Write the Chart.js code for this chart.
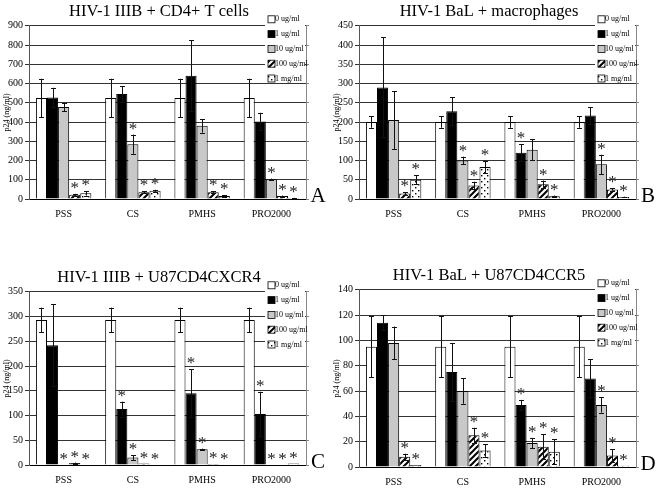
<!DOCTYPE html>
<html>
<head>
<meta charset="utf-8">
<script src="https://cdn.jsdelivr.net/npm/chart.js@4.4.1/dist/chart.umd.min.js"></script>
<style>
body { margin: 0; background: #fff; width: 660px; height: 489px; position: relative; overflow: hidden; }
canvas { position: absolute; }
</style>
</head>
<body>
<canvas id="chartA" width="330" height="223" style="left:0;top:0"></canvas>
<canvas id="chartB" width="330" height="223" style="left:330px;top:0"></canvas>
<canvas id="chartC" width="330" height="223" style="left:0;top:266px"></canvas>
<canvas id="chartD" width="330" height="225" style="left:330px;top:264px"></canvas>
<script>
const categories = ['PSS', 'CS', 'PMHS', 'PRO2000'];
const doses = ['0 ug/ml', '1 ug/ml', '10 ug/ml', '100 ug/ml', '1 mg/ml'];

// A: HIV-1 IIIB + CD4+ T cells (one row per dose)
const aValues = [[525, 525, 525, 525], [528, 545, 640, 403], [478, 285, 380, 103], [22, 35, 35, 15], [30, 43, 15, 5]];
const aErrors = [[100, 100, 100, 100], [50, 40, 185, 45], [22, 50, 35, 3], [5, 5, 5, 3], [12, 5, 5, 1]];
const aStars  = [[0, 0, 0, 0], [0, 0, 0, 0], [0, 1, 0, 1], [1, 1, 1, 1], [1, 1, 1, 1]];

// B: HIV-1 BaL + macrophages
const bValues = [[200, 200, 200, 200], [290, 228, 120, 217], [205, 100, 128, 90], [14, 35, 38, 25], [50, 83, 7, 5]];
const bErrors = [[15, 15, 15, 15], [130, 37, 22, 22], [75, 10, 27, 25], [3, 10, 10, 3], [12, 15, 2, 1]];
const bStars  = [[0, 0, 0, 0], [0, 0, 1, 0], [0, 1, 0, 1], [1, 1, 1, 1], [1, 1, 1, 1]];

// C: HIV-1 IIIB + U87CD4CXCR4
const cValues = [[293, 293, 293, 293], [242, 113, 145, 103], [1, 15, 32, 1], [4, 3, 2, 1], [1, 1, 1, 3]];
const cErrors = [[25, 25, 25, 25], [83, 15, 48, 45], [0, 5, 1, 0], [1, 0, 0, 0], [0, 0, 0, 0]];
const cStars  = [[0, 0, 0, 0], [0, 1, 1, 1], [1, 1, 1, 1], [1, 1, 1, 1], [1, 1, 1, 1]];

// D: HIV-1 BaL + U87CD4CCR5
const dValues = [[95, 95, 95, 95], [114, 75, 49, 70], [98, 60, 19, 49], [8, 25, 16, 9], [1.5, 13, 12, 1]];
const dErrors = [[24, 24, 24, 24], [6, 23, 4, 15], [13, 10, 4, 6], [2.5, 6, 10, 5], [0, 5, 10, 0]];
const dStars  = [[0, 0, 0, 0], [0, 0, 1, 0], [0, 0, 1, 1], [1, 1, 1, 1], [1, 1, 1, 1]];

const SERIF = "'Liberation Serif', 'Times New Roman', serif";

function hatchPattern() {
    const c = document.createElement('canvas');
    c.width = 6; c.height = 6;
    const g = c.getContext('2d');
    g.fillStyle = '#fff';
    g.fillRect(0, 0, 6, 6);
    g.strokeStyle = '#000';
    g.lineWidth = 2;
    g.beginPath();
    g.moveTo(-1, 7); g.lineTo(7, -1);
    g.moveTo(-4, 4); g.lineTo(4, -4);
    g.moveTo(2, 10); g.lineTo(10, 2);
    g.stroke();
    return g.createPattern(c, 'repeat');
}

function dotPattern() {
    const c = document.createElement('canvas');
    c.width = 6; c.height = 6;
    const g = c.getContext('2d');
    g.fillStyle = '#fff';
    g.fillRect(0, 0, 6, 6);
    g.fillStyle = '#000';
    g.fillRect(1, 1, 1.4, 1.4);
    g.fillRect(4, 4, 1.4, 1.4);
    return g.createPattern(c, 'repeat');
}

const fills = ['#ffffff', '#000000', '#c8c8c8', hatchPattern(), dotPattern()];

// error bars, asterisks, legend box and panel letter
const extras = {
    id: 'extras',
    afterDatasetsDraw(chart) {
        const ctx = chart.ctx, y = chart.scales.y;
        ctx.save();
        chart.data.datasets.forEach((ds, i) => {
            chart.getDatasetMeta(i).data.forEach((bar, j) => {
                const v = ds.data[j], e = ds.errors[j];
                const top = y.getPixelForValue(v + e);
                if (e > 0) {
                    const bot = y.getPixelForValue(Math.max(0, v - e));
                    const x = Math.round(bar.x) + 0.5;
                    ctx.strokeStyle = '#111';
                    ctx.lineWidth = 1;
                    ctx.beginPath();
                    ctx.moveTo(x, top); ctx.lineTo(x, bot);
                    ctx.moveTo(x - 2.5, Math.round(top) + 0.5); ctx.lineTo(x + 2.5, Math.round(top) + 0.5);
                    ctx.moveTo(x - 2.5, Math.round(bot) + 0.5); ctx.lineTo(x + 2.5, Math.round(bot) + 0.5);
                    ctx.stroke();
                }
                if (ds.stars[j]) {
                    ctx.fillStyle = '#222';
                    ctx.font = '17px ' + SERIF;
                    ctx.textAlign = 'center';
                    ctx.textBaseline = 'alphabetic';
                    ctx.fillText('*', bar.x, top - 1);
                }
            });
        });
        ctx.restore();
    },
    afterDraw(chart, args, opts) {
        const ctx = chart.ctx, area = chart.chartArea;
        ctx.save();
        ctx.fillStyle = '#fff';
        ctx.fillRect(area.right - 41, area.top - 14, 40, 71);
        ctx.font = '8px ' + SERIF;
        ctx.textBaseline = 'middle';
        ctx.textAlign = 'left';
        chart.data.datasets.forEach((ds, i) => {
            const ry = area.top - 6.5 + i * 14.8;
            ctx.fillStyle = ds.backgroundColor;
            ctx.fillRect(area.right - 38, ry - 3.5, 7, 7);
            ctx.strokeStyle = '#000';
            ctx.lineWidth = 0.8;
            ctx.strokeRect(area.right - 38, ry - 3.5, 7, 7);
            ctx.fillStyle = '#000';
            ctx.fillText(ds.label, area.right - 31, ry);
        });
        ctx.font = '21px ' + SERIF;
        ctx.textAlign = 'center';
        ctx.textBaseline = 'alphabetic';
        ctx.fillText(opts.letter, area.right + 12, area.bottom + 3);
        ctx.restore();
    }
};

function makePanel(id, title, letter, values, errors, stars, max, step, xHeight) {
    const datasets = doses.map((d, i) => ({
        label: d,
        data: values[i],
        errors: errors[i],
        stars: stars[i],
        backgroundColor: fills[i],
        borderColor: '#000',
        borderWidth: 1,
        categoryPercentage: 0.8,
        barPercentage: 1.0
    }));
    return new Chart(document.getElementById(id), {
        type: 'bar',
        data: { labels: categories, datasets: datasets },
        plugins: [extras],
        options: {
            responsive: false,
            animation: false,
            events: [],
            layout: { padding: { left: 0, right: 12, top: 0, bottom: 0 } },
            plugins: {
                legend: { display: false },
                tooltip: { enabled: false },
                title: {
                    display: true,
                    text: title,
                    color: '#000',
                    font: { family: SERIF, size: 16.5, weight: 'normal' },
                    padding: { top: 2, bottom: 4 }
                },
                extras: { letter: letter }
            },
            scales: {
                x: {
                    grid: { display: false, drawTicks: false },
                    border: { display: true, color: '#000' },
                    ticks: { color: '#000', font: { family: SERIF, size: 10 }, padding: 9 },
                    afterFit(scale) { scale.height = xHeight; }
                },
                y: {
                    min: 0, max: max,
                    ticks: { stepSize: step, color: '#000', font: { family: SERIF, size: 10 }, padding: 2 },
                    grid: { color: '#333', lineWidth: 1, tickLength: 4 },
                    border: { display: true, color: '#555' },
                    title: {
                        display: true, text: 'p24 (ng/ml)', color: '#000',
                        font: { family: SERIF, size: 8 }, padding: { top: 2, bottom: 0 }
                    },
                    afterFit(scale) { scale.width = 29; }
                },
                y2: {
                    position: 'right',
                    min: 0, max: max,
                    ticks: { stepSize: step, display: false },
                    grid: { drawOnChartArea: false, tickLength: 3, color: '#888' },
                    border: { display: true, color: '#888' },
                    afterFit(scale) { scale.width = 12; }
                }
            }
        }
    });
}

makePanel('chartA', 'HIV-1 IIIB + CD4+ T cells', 'A', aValues, aErrors, aStars, 900, 100, 24);
makePanel('chartB', 'HIV-1 BaL + macrophages', 'B', bValues, bErrors, bStars, 450, 50, 24);
makePanel('chartC', 'HIV-1 IIIB + U87CD4CXCR4', 'C', cValues, cErrors, cStars, 350, 50, 24);
makePanel('chartD', 'HIV-1 BaL + U87CD4CCR5', 'D', dValues, dErrors, dStars, 140, 20, 22);
</script>
</body>
</html>
